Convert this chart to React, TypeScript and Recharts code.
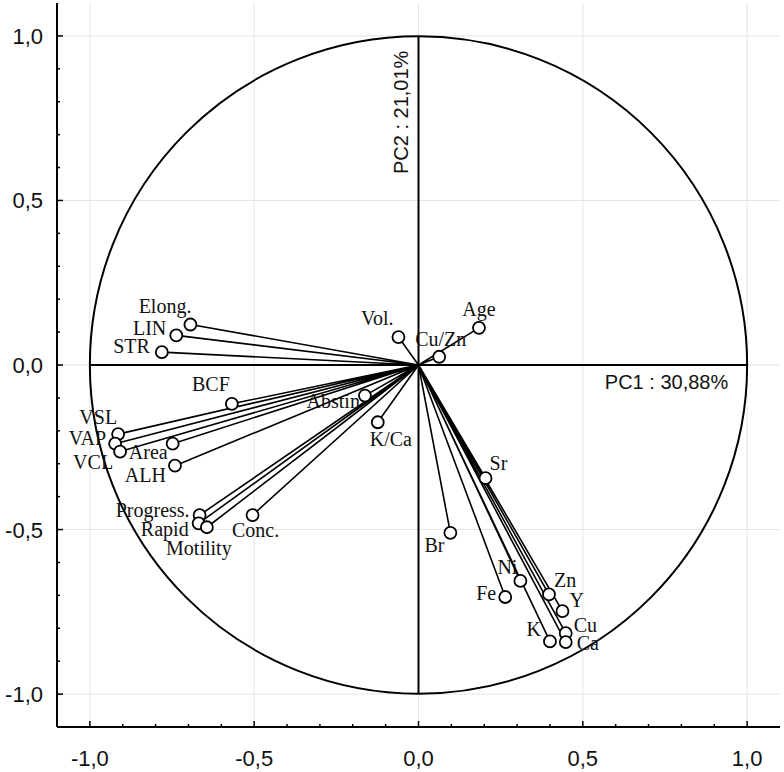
import React from "react";
import { ScatterChart, Scatter, XAxis, YAxis, ReferenceLine } from "recharts";

// PCA loadings
const variables = [
  "Elong.", "LIN", "STR", "BCF", "VSL", "VAP", "VCL", "Area", "ALH",
  "Progress.", "Rapid", "Motility", "Conc.", "Abstin", "K/Ca", "Vol.",
  "Cu/Zn", "Age", "Sr", "Br", "Ni", "Fe", "Zn", "Y", "Cu", "K", "Ca",
];
const pc1 = [
  -0.694, -0.737, -0.781, -0.568, -0.914, -0.923, -0.908, -0.748, -0.741,
  -0.666, -0.669, -0.644, -0.505, -0.163, -0.124, -0.061,
  0.063, 0.184, 0.204, 0.097, 0.31, 0.264, 0.397, 0.438, 0.448, 0.4, 0.448,
];
const pc2 = [
  0.123, 0.09, 0.039, -0.118, -0.21, -0.239, -0.263, -0.239, -0.306,
  -0.456, -0.481, -0.493, -0.456, -0.093, -0.174, 0.085,
  0.025, 0.113, -0.344, -0.51, -0.656, -0.705, -0.697, -0.748, -0.815, -0.84, -0.842,
];
const axisTicks = [
  -1, -0.9, -0.8, -0.7, -0.6, -0.5, -0.4, -0.3, -0.2, -0.1, 0,
  0.1, 0.2, 0.3, 0.4, 0.5, 0.6, 0.7, 0.8, 0.9, 1,
];
const gridValues = [-1, -0.5, 0, 0.5, 1];
const pc1Label = "PC1 : 30,88%";
const pc2Label = "PC2 : 21,01%";

// where each name sits relative to its marker: dx, baseline dy, anchor
const placement: Record<string, [number, number, "start" | "middle" | "end"]> = {
  "Elong.": [1, -12, "end"],
  LIN: [-10, 0, "end"],
  STR: [-12, 1, "end"],
  BCF: [-2, -13, "end"],
  VSL: [-1, -10, "end"],
  VAP: [-9, 1, "end"],
  VCL: [-7, 17, "end"],
  Area: [-5, 15, "end"],
  ALH: [-9, 16, "end"],
  "Progress.": [-10, 2, "end"],
  Rapid: [-10, 13, "end"],
  Motility: [-8, 28, "middle"],
  "Conc.": [3, 22, "middle"],
  Abstin: [-5, 12, "end"],
  "K/Ca": [-8, 24, "start"],
  "Vol.": [-5, -12, "end"],
  "Cu/Zn": [-24, -11, "start"],
  Age: [0, -12, "middle"],
  Sr: [4, -8, "start"],
  Br: [-6, 19, "end"],
  Ni: [-3, -7, "end"],
  Fe: [-9, 3, "end"],
  Zn: [5, -7, "start"],
  Y: [7, -4, "start"],
  Cu: [8, -1, "start"],
  K: [-9, -5, "end"],
  Ca: [11, 8, "start"],
};

const rays = variables.flatMap((name, i) => [
  { x: 0, y: 0, name: "" },
  { x: pc1[i], y: pc2[i], name },
]);

const SANS = "'Liberation Sans', Arial, sans-serif";
const SERIF = "'Liberation Serif', 'Times New Roman', serif";
const DOMAIN: [number, number] = [-1.1, 1.1];

const isMajor = (v: number) => Math.abs(v * 2 - Math.round(v * 2)) < 1e-6;
const fmt = (v: number) => v.toFixed(1).replace(".", ",");
const tickLen = (v: number) => (isMajor(v) ? 6 : 3);

const BottomTick = ({ x, y, payload }: any) => {
  const v = payload.value;
  return (
    <g>
      <line x1={x} x2={x} y1={y} y2={y - tickLen(v)} stroke="#000" strokeWidth={1.5} />
      {isMajor(v) && (
        <text x={x} y={y + 39} textAnchor="middle" fontSize={22} fontFamily={SANS} fill="#111">
          {fmt(v)}
        </text>
      )}
    </g>
  );
};

const TopTick = ({ x, y, payload }: any) => (
  <line x1={x} x2={x} y1={y} y2={y + tickLen(payload.value)} stroke="#000" strokeWidth={1.5} />
);

const LeftTick = ({ x, y, payload }: any) => {
  const v = payload.value;
  return (
    <g>
      <line x1={x} x2={x + tickLen(v)} y1={y} y2={y} stroke="#000" strokeWidth={1.5} />
      {isMajor(v) && (
        <text x={x - 14} y={y + 8} textAnchor="end" fontSize={22} fontFamily={SANS} fill="#111">
          {fmt(v)}
        </text>
      )}
    </g>
  );
};

const RightTick = ({ x, y, payload }: any) => (
  <line x1={x} x2={x - tickLen(payload.value)} y1={y} y2={y} stroke="#000" strokeWidth={1.5} />
);

// horizontal cross line from -1 to 1; the unit circle and axis captions hang off it
const CircleShape = (p: any) => {
  const cx = (p.x1 + p.x2) / 2;
  const cy = p.y1;
  const r = Math.abs(p.x2 - p.x1) / 2;
  return (
    <g>
      <circle cx={cx} cy={cy} r={r} fill="none" stroke="#000" strokeWidth={2} />
      <line x1={p.x1} x2={p.x2} y1={cy} y2={cy} stroke="#000" strokeWidth={2} />
      <text x={cx + 0.567 * r} y={cy + 24} fontSize={20} fontFamily={SANS} fill="#111">
        {pc1Label}
      </text>
      <text
        x={cx - 10}
        y={cy - 0.581 * r}
        fontSize={20}
        fontFamily={SANS}
        fill="#111"
        transform={`rotate(-90 ${cx - 10} ${cy - 0.581 * r})`}
      >
        {pc2Label}
      </text>
    </g>
  );
};

const Marker = (props: any) => {
  const { cx, cy, payload } = props;
  if (!payload || !payload.name) return <g />;
  const [dx, dy, anchor] = placement[payload.name] || [6, -6, "start"];
  return (
    <g>
      <circle cx={cx} cy={cy} r={6} fill="#fff" stroke="#000" strokeWidth={1.8} />
      <text x={cx + dx} y={cy + dy} textAnchor={anchor} fontSize={20} fontFamily={SERIF} fill="#111">
        {payload.name}
      </text>
    </g>
  );
};

export default function App() {
  return (
    <div style={{ position: "absolute", left: 0, top: 0, background: "#fff" }}>
      <ScatterChart width={784} height={772} margin={{ top: 3, right: 4, bottom: 0, left: 0 }}>
        <XAxis
          type="number"
          dataKey="x"
          domain={DOMAIN}
          allowDataOverflow
          ticks={axisTicks}
          interval={0}
          height={45}
          tickSize={0}
          tickMargin={0}
          tickLine={false}
          tick={BottomTick}
          axisLine={{ stroke: "#000", strokeWidth: 2 }}
        />
        <XAxis
          xAxisId="top"
          orientation="top"
          type="number"
          dataKey="x"
          domain={DOMAIN}
          allowDataOverflow
          ticks={axisTicks}
          interval={0}
          height={0}
          tickSize={0}
          tickMargin={0}
          tickLine={false}
          tick={TopTick}
          axisLine={{ stroke: "#000", strokeWidth: 2 }}
        />
        <YAxis
          type="number"
          dataKey="y"
          domain={DOMAIN}
          allowDataOverflow
          ticks={axisTicks}
          interval={0}
          width={57}
          tickSize={0}
          tickMargin={0}
          tickLine={false}
          tick={LeftTick}
          axisLine={{ stroke: "#000", strokeWidth: 2 }}
        />
        <YAxis
          yAxisId="right"
          orientation="right"
          type="number"
          dataKey="y"
          domain={DOMAIN}
          allowDataOverflow
          ticks={axisTicks}
          interval={0}
          width={0}
          tickSize={0}
          tickMargin={0}
          tickLine={false}
          tick={RightTick}
          axisLine={{ stroke: "#000", strokeWidth: 2 }}
        />
        {gridValues.map((v) => (
          <ReferenceLine key={`gx${v}`} x={v} stroke="#e4e4e4" strokeWidth={1} />
        ))}
        {gridValues.map((v) => (
          <ReferenceLine key={`gy${v}`} y={v} stroke="#e4e4e4" strokeWidth={1} />
        ))}
        <ReferenceLine
          segment={[{ x: 0, y: -1 }, { x: 0, y: 1 }]}
          stroke="#000"
          strokeWidth={2}
        />
        <ReferenceLine
          segment={[{ x: -1, y: 0 }, { x: 1, y: 0 }]}
          shape={CircleShape}
        />
        <Scatter
          data={rays}
          line={{ stroke: "#000", strokeWidth: 1.6 }}
          lineType="joint"
          shape={Marker}
          isAnimationActive={false}
        />
      </ScatterChart>
    </div>
  );
}
